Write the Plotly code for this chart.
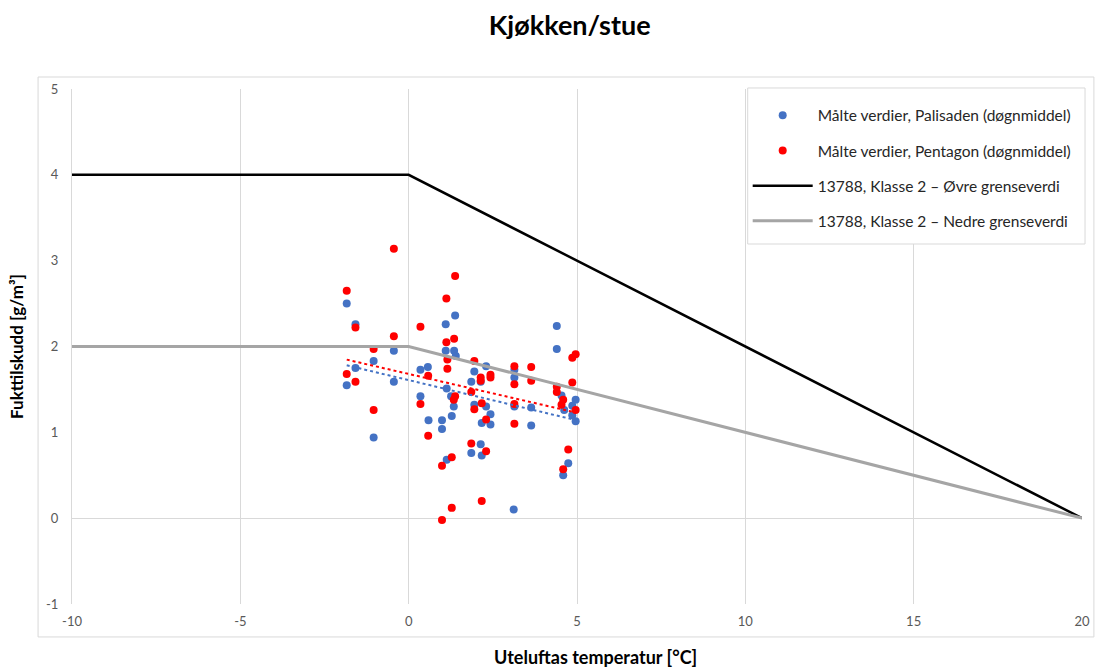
import numpy as np
import plotly.graph_objects as go

# Daily means, Palisaden: outdoor temperature [°C] and moisture supply [g/m³]
pal_temp = [-1.84, -1.58, -1.58, -1.84, -1.04, -1.04, -0.44, -0.44, 0.35, 0.35,
            0.57, 0.59, 0.99, 0.99, 1.10, 1.10, 1.13, 1.13, 1.38, 1.35,
            1.40, 1.26, 1.34, 1.28, 1.95, 1.86, 1.95, 1.86, 2.30, 2.14,
            2.30, 2.43, 2.17, 2.43, 2.14, 2.17, 3.14, 3.14, 3.14, 3.12,
            3.64, 3.64, 4.40, 4.40, 4.54, 4.62, 4.96, 4.86, 4.86, 4.96,
            4.74, 4.59]
pal_moist = [2.50, 2.26, 1.75, 1.55, 1.83, 0.94, 1.95, 1.59, 1.73, 1.42,
             1.76, 1.14, 1.14, 1.04, 2.26, 1.95, 1.51, 0.68, 2.36, 1.95,
             1.89, 1.42, 1.30, 1.19, 1.71, 1.59, 1.32, 0.76, 1.77, 1.59,
             1.30, 1.21, 1.11, 1.09, 0.86, 0.73, 1.73, 1.64, 1.30, 0.10,
             1.29, 1.08, 2.24, 1.97, 1.43, 1.26, 1.38, 1.31, 1.20, 1.13,
             0.64, 0.50]

# Daily means, Pentagon
pen_temp = [-0.44, -1.84, -1.58, -0.44, -1.04, -1.84, -1.58, -1.04, 1.38, 1.12,
            0.35, 1.35, 1.12, 1.15, 1.15, 0.58, 0.35, 1.38, 1.34, 0.58,
            1.28, 0.99, 1.28, 0.99, 1.95, 1.86, 1.95, 1.86, 2.14, 2.14,
            2.43, 2.43, 2.17, 2.30, 2.30, 2.17, 3.14, 3.14, 3.14, 3.14,
            3.64, 3.64, 4.86, 4.96, 4.86, 4.40, 4.40, 4.59, 4.54, 4.96,
            4.74, 4.59]
pen_moist = [3.14, 2.65, 2.22, 2.12, 1.97, 1.68, 1.59, 1.26, 2.82, 2.56,
             2.23, 2.09, 2.05, 1.85, 1.74, 1.66, 1.33, 1.42, 1.38, 0.96,
             0.71, 0.61, 0.12, -0.02, 1.83, 1.47, 1.27, 0.87, 1.64, 1.60,
             1.67, 1.64, 1.34, 1.15, 0.78, 0.20, 1.77, 1.56, 1.33, 1.10,
             1.76, 1.60, 1.87, 1.91, 1.58, 1.53, 1.47, 1.38, 1.32, 1.26,
             0.80, 0.57]

# NS-EN ISO 13788, humidity class 2 limits
limit_temp = [-10, 0, 20]
upper_limit = [4, 4, 0]
lower_limit = [2, 2, 0]

# Axis ticks
x_ticks = [-10, -5, 0, 5, 10, 15, 20]
x_ticklabels = ["-10", "-5", "0", "5", "10", "15", "20"]
y_ticks = [-1, 0, 1, 2, 3, 4, 5]
y_ticklabels = ["-1", "0", "1", "2", "3", "4", "5"]

BLUE = "#4472C4"
RED = "#FF0000"
GRID = "#D9D9D9"
FONT = "Lato"


def linear_trend(x, y):
    k, m = np.polyfit(x, y, 1)
    xs = np.array([min(x), max(x)])
    return xs, k * xs + m


fig = go.Figure()

fig.add_trace(go.Scatter(
    x=pal_temp, y=pal_moist, mode="markers",
    name="Målte verdier, Palisaden (døgnmiddel)",
    marker=dict(color=BLUE, size=8), legendgroup="a"))
fig.add_trace(go.Scatter(
    x=pen_temp, y=pen_moist, mode="markers",
    name="Målte verdier, Pentagon (døgnmiddel)",
    marker=dict(color=RED, size=8), legendgroup="b"))
fig.add_trace(go.Scatter(
    x=limit_temp, y=upper_limit, mode="lines",
    name="13788, Klasse 2 – Øvre grenseverdi",
    line=dict(color="black", width=2.5), legendgroup="c"))
fig.add_trace(go.Scatter(
    x=limit_temp, y=lower_limit, mode="lines",
    name="13788, Klasse 2 – Nedre grenseverdi",
    line=dict(color="#A5A5A5", width=3), legendgroup="d"))

# Linear trend lines for each series
for tx, ty, col in [(pal_temp, pal_moist, BLUE), (pen_temp, pen_moist, RED)]:
    xs, ys = linear_trend(tx, ty)
    fig.add_trace(go.Scatter(
        x=xs, y=ys, mode="lines", showlegend=False, hoverinfo="skip",
        line=dict(color=col, width=2, dash="dot")))

fig.update_layout(
    width=1102, height=668,
    margin=dict(l=72, r=17, t=89, b=64),
    paper_bgcolor="white", plot_bgcolor="white",
    font=dict(family=FONT, color="#595959"),
    title=dict(text="<b>Kjøkken/stue</b>", x=0.517, xanchor="center",
               y=0.962, yanchor="middle",
               font=dict(family=FONT, size=27, color="black")),
    legend=dict(x=0.669, xanchor="left", y=0.981, yanchor="top",
                bgcolor="rgba(0,0,0,0)", borderwidth=0,
                font=dict(family=FONT, size=15.5, color="#262626"),
                tracegroupgap=12, itemwidth=60),
    showlegend=True,
)

fig.update_xaxes(
    range=[-10, 20], tickvals=x_ticks, ticktext=x_ticklabels,
    showgrid=True, gridcolor=GRID, gridwidth=1,
    zeroline=False, showline=False, ticks="",
    ticklabelstandoff=8,
    tickfont=dict(family=FONT, size=13, color="#595959"),
)
fig.update_yaxes(
    range=[-1, 5], tickvals=y_ticks, ticktext=y_ticklabels,
    showgrid=False, zeroline=True, zerolinecolor=GRID, zerolinewidth=1,
    showline=True, linecolor=GRID, linewidth=1, ticks="",
    ticklabelstandoff=10,
    tickfont=dict(family=FONT, size=13, color="#595959"),
    title=dict(text="<b>Fukttilskudd [g/m³]</b>", standoff=18,
               font=dict(family=FONT, size=17, color="black")),
)

# X axis title
fig.add_annotation(text="<b>Uteluftas temperatur [°C]</b>",
                   xref="paper", yref="paper", x=0.518, y=-0.103,
                   xanchor="center", yanchor="middle", showarrow=False,
                   font=dict(family=FONT, size=18, color="black"))

# Chart area frame
fig.add_shape(type="rect", xref="paper", yref="paper",
              x0=-0.0336, x1=1.0118, y0=-0.064, y1=1.0233,
              line=dict(color=GRID, width=1), layer="below")

# Legend frame (white, covers gridlines behind the legend)
fig.add_shape(type="rect", xref="paper", yref="paper",
              x0=0.669, x1=1.003, y0=0.699, y1=1.002,
              line=dict(color=GRID, width=1), fillcolor="white", layer="above")

fig.write_html("out.html")
